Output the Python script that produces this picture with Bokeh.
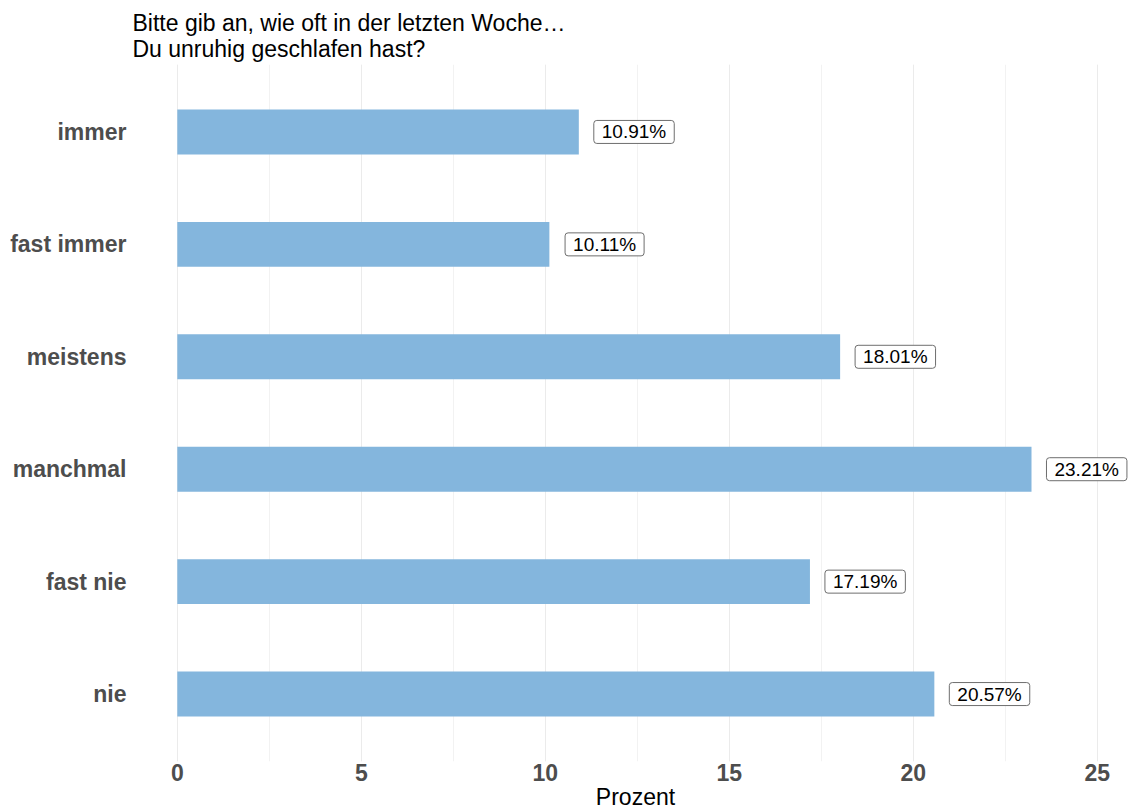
from bokeh.plotting import figure
from bokeh.models import ColumnDataSource, FactorRange, SingleIntervalTicker, Range1d
from bokeh.core.properties import value
from bokeh.embed import file_html
from bokeh.resources import INLINE

# Answer categories (top to bottom) and their shares in percent
categories = ["immer", "fast immer", "meistens", "manchmal", "fast nie", "nie"]
percent = [10.91, 10.11, 18.01, 23.21, 17.19, 20.57]
labels = [f"{v:.2f}%" for v in percent]

title_text = "Bitte gib an, wie oft in der letzten Woche…\nDu unruhig geschlafen hast?"
x_title = "Prozent"

# Bokeh stacks categorical y factors bottom-up, so reverse for a top-down listing
factors = list(reversed(categories))

source = ColumnDataSource(data=dict(
    cat=categories,
    pct=percent,
    lab=labels,
    lab_x=[v + 1.5 for v in percent],
))

font = "Liberation Sans"

p = figure(
    width=1130, height=812,
    y_range=FactorRange(factors=factors, range_padding=0.1, range_padding_units="absolute"),
    x_range=Range1d(-1.0, 25.9),
    output_backend="svg", toolbar_location=None,
    min_border_left=140, min_border_right=0, min_border_top=64, min_border_bottom=0,
)

p.hbar(y="cat", right="pct", left=0, height=0.4, source=source,
       fill_color="#84B6DD", line_color=None)

p.text(x="lab_x", y="cat", text="lab", source=source,
       text_align="center", text_baseline="middle",
       text_font=value(font), text_font_size="19px", text_color="#000000",
       background_fill_color="white", border_line_color="#6E6E6E",
       border_line_width=1, border_radius=3,
       padding=dict(left=8, right=8, top=1, bottom=1))

# Title
p.title.text = title_text
p.title.align = "left"
p.title.offset = -8
p.title.text_font = font
p.title.text_font_size = "23px"
p.title.text_font_style = "normal"
p.title.text_color = "#000000"
p.title.standoff = 5

# x axis
p.xaxis.ticker = SingleIntervalTicker(interval=5, num_minor_ticks=2)
p.xaxis.axis_label = x_title
p.xaxis.axis_label_text_font = font
p.xaxis.axis_label_text_font_size = "23px"
p.xaxis.axis_label_text_font_style = "normal"
p.xaxis.axis_label_text_color = "#000000"
p.xaxis.axis_label_standoff = 0
p.xaxis.major_label_text_font = font
p.xaxis.major_label_text_font_size = "23px"
p.xaxis.major_label_text_font_style = "bold"
p.xaxis.major_label_text_color = "#4D4D4D"
p.xaxis.major_label_standoff = -2
p.xaxis.axis_line_color = None
p.xaxis.major_tick_line_color = None
p.xaxis.minor_tick_line_color = None
p.xaxis.major_tick_out = 0
p.xaxis.major_tick_in = 0

# y axis
p.yaxis.major_label_text_font = font
p.yaxis.major_label_text_font_size = "23px"
p.yaxis.major_label_text_font_style = "bold"
p.yaxis.major_label_text_color = "#4D4D4D"
p.yaxis.major_label_standoff = 14
p.yaxis.axis_line_color = None
p.yaxis.major_tick_line_color = None
p.yaxis.minor_tick_line_color = None
p.yaxis.major_tick_out = 0
p.yaxis.major_tick_in = 0

# grid: vertical lines only
p.ygrid.grid_line_color = None
p.xgrid.grid_line_color = "#EBEBEB"
p.xgrid.grid_line_width = 1
p.xgrid.minor_grid_line_color = "#F2F2F2"
p.xgrid.minor_grid_line_width = 1
p.outline_line_color = None

open("out.html", "w").write(file_html(p, INLINE))
